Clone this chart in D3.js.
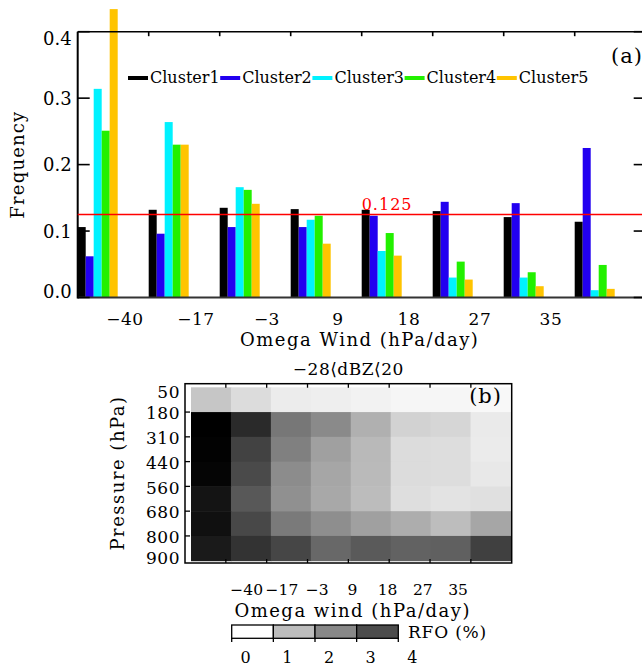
<!DOCTYPE html>
<html><head><meta charset="utf-8">
<script src="https://cdn.jsdelivr.net/npm/d3@7"></script>
<style>body{margin:0;background:#fff}svg{display:block}text{font-family:"DejaVu Serif",serif;fill:#000}</style>
</head><body>
<script>
// ---------- data ----------
const clusters = ["Cluster1","Cluster2","Cluster3","Cluster4","Cluster5"];
const clusterColors = ["#000000","#2200f0","#00f2ff","#22f000","#ffc400"];
const binCount = 8;
const omegaTickLabels = ["\u221240","\u221217","\u22123","9","18","27","35"];
const cluster1 = [0.106,0.132,0.135,0.133,0.132,0.130,0.121,0.114];
const cluster2 = [0.062,0.096,0.106,0.106,0.123,0.144,0.142,0.225];
const cluster3 = [0.314,0.264,0.166,0.117,0.070,0.030,0.030,0.011];
const cluster4 = [0.251,0.230,0.162,0.123,0.097,0.054,0.038,0.049];
const cluster5 = [0.434,0.230,0.141,0.081,0.063,0.027,0.017,0.013];
const freqTicks = [0.0,0.1,0.2,0.3,0.4];
const refLine = 0.125;

const pressureLevels = [50,180,310,440,560,680,800,900];
const rfo50 = [0.86,0.53,0.29,0.26,0.20,0.14,0.14,0.11];
const rfo180 = [4.00,3.45,2.28,1.96,1.25,0.68,0.62,0.32];
const rfo310 = [3.97,3.13,2.13,1.55,1.08,0.53,0.52,0.30];
const rfo440 = [3.93,3.03,1.92,1.43,1.06,0.53,0.52,0.35];
const rfo560 = [3.74,2.80,1.85,1.40,1.02,0.50,0.42,0.47];
const rfo680 = [3.79,3.05,2.23,1.89,1.55,1.30,1.00,1.43];
const rfo800 = [3.66,3.33,3.08,2.53,2.77,2.63,2.67,3.16];
const rfoTicks = [0,1,2,3,4];
const panelBTitle = "\u221228\u27E8dBZ\u27E820";

// ---------- svg ----------
const svg = d3.select("body").append("svg").attr("width",642).attr("height",666);

// ===== Panel (a) =====
const A = {x0:77.7, x1:645.7, y0:297.5, y1:31.7};
const x = d3.scaleBand().domain(d3.range(binCount)).range([A.x0,A.x1]);
const xc = d3.scaleBand().domain(clusters).range([0, x.bandwidth()*0.5634]);
const y = d3.scaleLinear().domain([0,0.4]).range([A.y0,A.y1]);
const series = [cluster1,cluster2,cluster3,cluster4,cluster5];

const ga = svg.append("g");
series.forEach((vals,ci)=>{
  ga.selectAll(null).data(vals).enter().append("rect")
    .attr("x",(d,i)=>x(i)+xc(clusters[ci]))
    .attr("width",xc.bandwidth())
    .attr("y",d=>y(d))
    .attr("height",d=>y(0)-y(d))
    .attr("fill",clusterColors[ci]);
});
// axes frame
ga.append("line").attr("x1",A.x0).attr("x2",A.x1).attr("y1",A.y0).attr("y2",A.y0).attr("stroke","#333").attr("stroke-width",2);
ga.append("line").attr("x1",A.x0).attr("x2",A.x1).attr("y1",A.y1).attr("y2",A.y1).attr("stroke","#000").attr("stroke-width",1.6);
ga.append("line").attr("x1",A.x0).attr("x2",A.x0).attr("y1",A.y0+1).attr("y2",A.y1).attr("stroke","#000").attr("stroke-width",2);
ga.append("line").attr("x1",A.x1).attr("x2",A.x1).attr("y1",A.y0).attr("y2",A.y1).attr("stroke","#000").attr("stroke-width",2);
// y ticks left and right
freqTicks.forEach(t=>{
  ga.append("line").attr("x1",A.x0).attr("x2",A.x0+12).attr("y1",y(t)).attr("y2",y(t)).attr("stroke","#000").attr("stroke-width",1.6);
  ga.append("line").attr("x1",A.x1-12).attr("x2",A.x1).attr("y1",y(t)).attr("y2",y(t)).attr("stroke","#000").attr("stroke-width",1.6);
  const cy = Math.max(A.y1+6.5, Math.min(A.y0-5.5, y(t)));
  ga.append("text").attr("x",A.x0-6).attr("y",cy).attr("dy","0.36em").attr("text-anchor","end")
    .attr("font-size",18).text(t.toFixed(1));
});
// top ticks at bin boundaries
d3.range(1,binCount).forEach(i=>{
  ga.append("line").attr("x1",x(i)).attr("x2",x(i)).attr("y1",A.y1).attr("y2",A.y1+4.5).attr("stroke","#000").attr("stroke-width",1.6);
});
// x labels
omegaTickLabels.forEach((lab,i)=>{
  ga.append("text").attr("x",x(i)+x.bandwidth()*0.665).attr("y",325).attr("text-anchor","middle")
    .attr("font-size",17).attr("letter-spacing",0.5).text(lab);
});
ga.append("text").attr("x",(A.x0+A.x1)/2-2).attr("y",346).attr("text-anchor","middle")
  .attr("font-size",18).attr("letter-spacing",1.5).text("Omega Wind (hPa/day)");
ga.append("text").attr("transform",`translate(24,${(A.y0+A.y1)/2}) rotate(-90)`).attr("text-anchor","middle")
  .attr("font-size",18).attr("letter-spacing",1.2).text("Frequency");
// reference line
ga.append("line").attr("x1",A.x0).attr("x2",A.x1).attr("y1",y(refLine)).attr("y2",y(refLine)).attr("stroke","#ff0000").attr("stroke-width",1.6);
ga.append("text").attr("x",(A.x0+A.x1)/2).attr("y",y(refLine)-4.5).attr("font-size",16).attr("letter-spacing",1)
  .style("fill","#ff0000").text(refLine.toFixed(3));
// legend
clusters.forEach((c,i)=>{
  const lx = 128 + i*92.2;
  ga.append("line").attr("x1",lx).attr("x2",lx+20).attr("y1",78).attr("y2",78).attr("stroke",clusterColors[i]).attr("stroke-width",4);
  ga.append("text").attr("x",lx+22).attr("y",82.5).attr("font-size",16).text(c);
});
ga.append("text").attr("x",643).attr("y",63).attr("text-anchor","end").attr("font-size",21).attr("letter-spacing",1).text("(a)");

// ===== Panel (b) =====
const B = {fx0:185, fx1:511.7, fy0:383.7, fy1:563, cx0:191, cx1:510.5, cy0:387.3, cy1:560.7};
const rows = [rfo50,rfo180,rfo310,rfo440,rfo560,rfo680,rfo800];
const xb = d3.scaleBand().domain(d3.range(binCount)).range([B.cx0,B.cx1]);
const yb = d3.scaleBand().domain(d3.range(rows.length)).range([B.cy0,B.cy1]);
const yLev = d3.scalePoint().domain(pressureLevels).range([B.cy0,B.cy1]);
const gray = d3.scaleLinear().domain(rfoTicks).range(["#ffffff","#bdbdbd","#888888","#4c4c4c","#000000"]).clamp(true);
const gb = svg.append("g");
rows.forEach((r,ri)=>{
  gb.selectAll(null).data(r).enter().append("rect")
    .attr("x",(d,i)=>xb(i)).attr("y",yb(ri))
    .attr("width",xb.bandwidth()+0.5).attr("height",yb.bandwidth()+0.5)
    .attr("fill",d=>gray(d));
});
gb.append("rect").attr("x",B.fx0).attr("y",B.fy0).attr("width",B.fx1-B.fx0).attr("height",B.fy1-B.fy0)
  .attr("fill","none").attr("stroke","#000").attr("stroke-width",1.5);
const xf = d3.scaleLinear().domain([0,binCount]).range([B.fx0,B.fx1]);
d3.range(1,binCount).forEach(i=>{
  gb.append("line").attr("x1",xf(i)).attr("x2",xf(i)).attr("y1",B.fy0).attr("y2",B.fy0+4).attr("stroke","#000").attr("stroke-width",1.3);
  gb.append("line").attr("x1",xf(i)).attr("x2",xf(i)).attr("y1",B.fy1).attr("y2",B.fy1-4).attr("stroke","#000").attr("stroke-width",1.3);
});
pressureLevels.forEach((p,i)=>{
  if(i>0 && i<pressureLevels.length-1){
    gb.append("line").attr("x1",B.fx0).attr("x2",B.fx0+5).attr("y1",yLev(p)).attr("y2",yLev(p)).attr("stroke","#000").attr("stroke-width",1.3);
  }
  const cy = Math.max(B.fy0+8, Math.min(B.fy1-5, yLev(p)+1));
  gb.append("text").attr("x",180).attr("y",cy).attr("dy","0.36em").attr("text-anchor","end")
    .attr("font-size",17).attr("letter-spacing",0.5).text(p);
});
const xLab = d3.scalePoint().domain(omegaTickLabels).range([246.7,458]);
omegaTickLabels.forEach(l=>{
  gb.append("text").attr("x",xLab(l)).attr("y",595).attr("text-anchor","middle").attr("font-size",15.5).text(l);
});
gb.append("text").attr("x",352.7).attr("y",616.5).attr("text-anchor","middle").attr("font-size",18).attr("letter-spacing",1.5).text("Omega wind (hPa/day)");
gb.append("text").attr("transform",`translate(124,473) rotate(-90)`).attr("text-anchor","middle")
  .attr("font-size",18).attr("letter-spacing",1.5).text("Pressure (hPa)");
gb.append("text").attr("x",(B.fx0+B.fx1)/2).attr("y",375).attr("text-anchor","middle").attr("font-size",17).attr("letter-spacing",0.5).text(panelBTitle);
gb.append("text").attr("x",502).attr("y",403).attr("text-anchor","end").attr("font-size",21).attr("letter-spacing",1).text("(b)");

// colorbar
const cbx = d3.scaleLinear().domain([0,4]).range([231.7,398.3]);
const gc = svg.append("g");
rfoTicks.slice(0,-1).forEach(t=>{
  gc.append("rect").attr("x",cbx(t)).attr("y",625).attr("width",cbx(t+1)-cbx(t)).attr("height",13.3)
    .attr("fill",gray(t)).attr("stroke","#000").attr("stroke-width",1.3);
});
rfoTicks.forEach(t=>{
  gc.append("line").attr("x1",cbx(t)).attr("x2",cbx(t)).attr("y1",638).attr("y2",642).attr("stroke","#000").attr("stroke-width",1.3);
  gc.append("text").attr("x",cbx(t)+14).attr("y",663).attr("text-anchor","middle").attr("font-size",16).text(t);
});
gc.append("text").attr("x",408).attr("y",638).attr("font-size",17).attr("letter-spacing",0.8).text("RFO (%)");
</script>
</body></html>
